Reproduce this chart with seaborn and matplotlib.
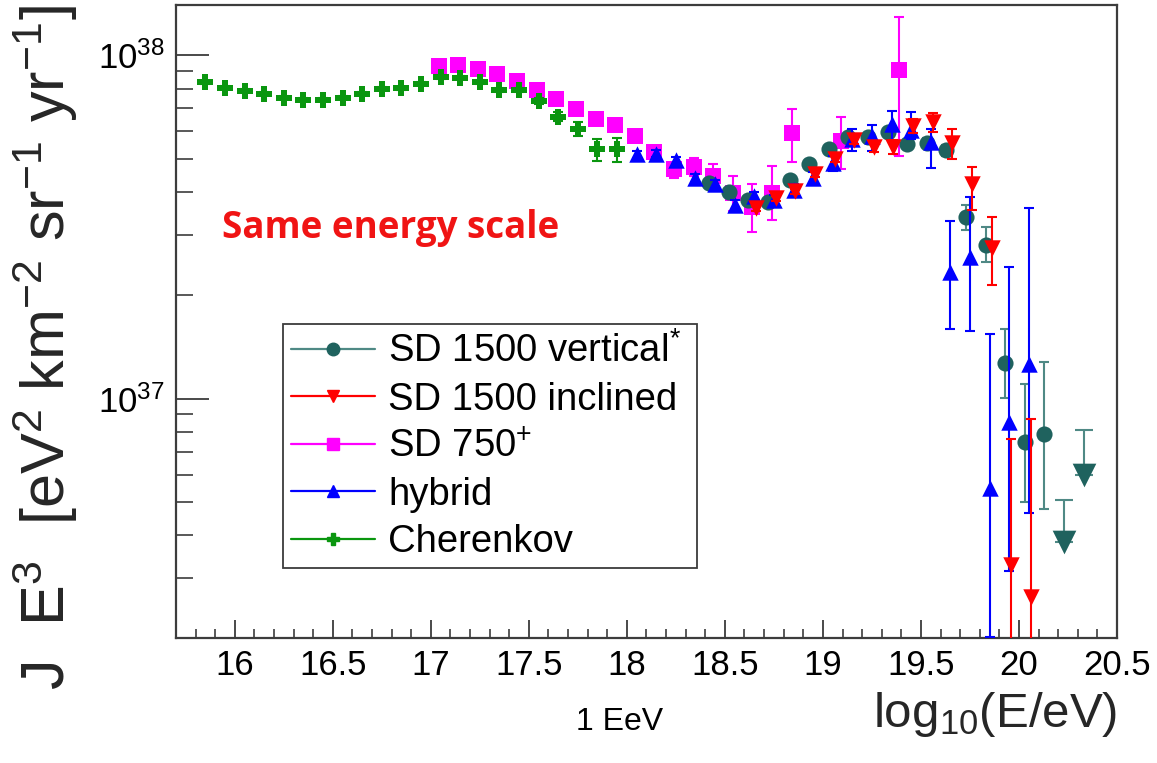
import numpy as np
import pandas as pd
import matplotlib
matplotlib.use("Agg")
import matplotlib.pyplot as plt
import seaborn as sns
from matplotlib.lines import Line2D
from matplotlib.ticker import FixedLocator, LogLocator, NullFormatter, FuncFormatter

# ── Data (J E^3 in units of 1e37 eV^2 km^-2 sr^-1 yr^-1) ─────────────────────
SCALE = 1e37

# SD 1500 vertical
vert_x  = [18.42, 18.52, 18.62, 18.72, 18.83, 18.93, 19.03, 19.13, 19.23, 19.33,
           19.43, 19.53, 19.63, 19.73, 19.83, 19.93, 20.03, 20.13]
vert_y  = [4.25, 3.99, 3.80, 3.74, 4.32, 4.81, 5.32, 5.79, 5.79, 5.96,
           5.51, 5.57, 5.29, 3.37, 2.80, 1.27, 0.746, 0.791]
vert_lo = [0.04, 0.04, 0.04, 0.04, 0.05, 0.06, 0.07, 0.09, 0.10, 0.12,
           0.14, 0.17, 0.20, 0.27, 0.30, 0.263, 0.245, 0.315]
vert_hi = [0.04, 0.04, 0.04, 0.04, 0.05, 0.06, 0.07, 0.09, 0.10, 0.12,
           0.14, 0.17, 0.20, 0.30, 0.37, 0.33, 0.354, 0.489]
# upper limits (cap value and arrow tip)
ul_x   = [20.23, 20.33]
ul_cap = [0.507, 0.809]
ul_tip = [0.383, 0.600]

# SD 1500 inclined
incl_x  = [18.66, 18.76, 18.86, 18.96, 19.06, 19.16, 19.26, 19.36, 19.46, 19.56,
           19.66, 19.76, 19.86, 19.96, 20.06]
incl_y  = [3.59, 3.83, 4.02, 4.50, 4.98, 5.66, 5.41, 5.41, 6.23, 6.37,
           5.57, 4.21, 2.74, 0.327, 0.264]
incl_lo = [0.06, 0.06, 0.07, 0.08, 0.10, 0.13, 0.20, 0.25, 0.30, 0.41,
           0.59, 0.66, 0.59, 0.227, 0.164]
incl_hi = [0.06, 0.06, 0.07, 0.08, 0.10, 0.13, 0.20, 0.25, 0.30, 0.40,
           0.53, 0.53, 0.64, 0.436, 0.609]

# SD 750
sd750_x  = [17.04, 17.14, 17.24, 17.34, 17.44, 17.54, 17.64, 17.74, 17.84, 17.94,
            18.04, 18.14, 18.24, 18.34, 18.44, 18.54, 18.64, 18.74, 18.84, 19.09, 19.39]
sd750_y  = [9.28, 9.35, 9.14, 8.84, 8.41, 7.93, 7.46, 6.98, 6.52, 6.28,
            5.83, 5.21, 4.65, 4.73, 4.45, 3.97, 3.61, 3.97, 5.92, 5.63, 9.04]
sd750_lo = [0.10, 0.10, 0.10, 0.10, 0.10, 0.10, 0.10, 0.10, 0.10, 0.10,
            0.10, 0.10, 0.25, 0.28, 0.39, 0.46, 0.55, 0.65, 1.03, 0.96, 3.95]
sd750_hi = [0.10, 0.10, 0.10, 0.10, 0.10, 0.10, 0.10, 0.10, 0.10, 0.10,
            0.10, 0.10, 0.16, 0.30, 0.36, 0.48, 0.60, 0.79, 1.06, 0.96, 3.91]

# hybrid
hyb_x  = [18.05, 18.15, 18.25, 18.35, 18.45, 18.55, 18.65, 18.75, 18.85, 18.95,
          19.05, 19.15, 19.25, 19.35, 19.45, 19.55, 19.65, 19.75, 19.85, 19.95, 20.05]
hyb_y  = [5.15, 5.17, 4.94, 4.40, 4.21, 3.67, 3.89, 3.78, 4.06, 4.40,
          4.84, 5.70, 5.81, 6.32, 6.07, 5.60, 2.34, 2.59, 0.548, 0.854, 1.26]
hyb_lo = [0.12, 0.12, 0.12, 0.12, 0.12, 0.12, 0.12, 0.13, 0.15, 0.17,
          0.25, 0.43, 0.54, 0.69, 0.37, 0.90, 0.74, 1.02, 0.346, 0.538, 0.795]
hyb_hi = [0.12, 0.12, 0.12, 0.12, 0.12, 0.12, 0.12, 0.13, 0.15, 0.17,
          0.25, 0.40, 0.45, 0.58, 0.78, 0.50, 0.96, 1.27, 0.992, 1.566, 2.32]

# Cherenkov
cher_x   = [15.85, 15.95, 16.05, 16.15, 16.25, 16.35, 16.45, 16.55, 16.65, 16.75, 16.85,
            16.95, 17.05, 17.15, 17.25, 17.35, 17.45, 17.55, 17.65, 17.75, 17.85, 17.95]
cher_y   = [8.35, 8.04, 7.89, 7.72, 7.52, 7.42, 7.42, 7.52, 7.72, 7.99, 8.02,
            8.26, 8.64, 8.60, 8.35, 7.93, 7.93, 7.38, 6.63, 6.10, 5.32, 5.32]
cher_err = [0.08, 0.08, 0.08, 0.08, 0.08, 0.08, 0.08, 0.08, 0.08, 0.08, 0.08,
            0.09, 0.10, 0.10, 0.10, 0.10, 0.12, 0.15, 0.20, 0.30, 0.40, 0.42]

x_ticks = [16, 16.5, 17, 17.5, 18, 18.5, 19, 19.5, 20, 20.5]

# ── Style ─────────────────────────────────────────────────────────────────────
TEAL_M, TEAL_L = "#1f625e", "#4f8985"
RED, MAGENTA, BLUE, GREEN = "#ff0000", "#ff00ff", "#0000ff", "#0a960f"
FRAME = "#3c3c3c"

sns.set_theme(style="white")
plt.rcParams.update({
    "font.family":      ["Liberation Sans", "DejaVu Sans"],
    "mathtext.fontset": "custom",
    "mathtext.rm":      "Liberation Sans",
    "mathtext.it":      "Liberation Sans:italic",
    "mathtext.default": "regular",
    "axes.edgecolor":   FRAME,
    "axes.linewidth":   1.6,
    "text.color":       "black",
    "xtick.color":      FRAME,
    "ytick.color":      FRAME,
    "xtick.labelcolor": "black",
    "ytick.labelcolor": "black",
})

fig = plt.figure(figsize=(11.57, 7.63), dpi=100, facecolor="white")
ax = fig.add_axes([0.1521, 0.1638, 0.8133, 0.8296])

series = [
    # label, x, y, lo, hi, marker, marker colour, bar colour, size, zorder
    ("SD 750$^{+}$",          sd750_x, sd750_y, sd750_lo, sd750_hi, "s", MAGENTA, MAGENTA, 125, 2),
    ("Cherenkov",             cher_x, cher_y, cher_err, cher_err, "P", GREEN, GREEN, 135, 3),
    ("SD 1500 vertical$^{*}$", vert_x, vert_y, vert_lo, vert_hi, "o", TEAL_M, TEAL_L, 135, 4),
    ("hybrid",                hyb_x, hyb_y, hyb_lo, hyb_hi, "^", BLUE, BLUE, 140, 5),
    ("SD 1500 inclined",      incl_x, incl_y, incl_lo, incl_hi, "v", RED, RED, 140, 6),
]

for label, xs, ys, lo, hi, mk, mc, ec, sz, z in series:
    ys = np.array(ys) * SCALE
    yerr = [np.array(lo) * SCALE, np.array(hi) * SCALE]
    ax.errorbar(xs, ys, yerr=yerr, fmt="none", ecolor=ec, elinewidth=1.5,
                capsize=3.8, capthick=1.5, zorder=z)
    sns.scatterplot(x=xs, y=ys, ax=ax, marker=mk, color=mc, s=sz,
                    linewidth=0, legend=False, zorder=z + 0.5)

# upper limits of SD 1500 vertical
tip = np.array(ul_tip) * SCALE
cap = np.array(ul_cap) * SCALE
ax.errorbar(ul_x, tip, yerr=[np.zeros(len(tip)), cap - tip], fmt="none",
            ecolor=TEAL_L, elinewidth=1.5, capsize=6.5, capthick=1.5, zorder=4)
sns.scatterplot(x=ul_x, y=tip, ax=ax, marker="v", color=TEAL_M, s=290,
                linewidth=0, legend=False, zorder=4.5)

# ── Axes ──────────────────────────────────────────────────────────────────────
ax.set_yscale("log")
ax.set_xlim(15.7, 20.5)
ax.set_ylim(2.01e36, 1.40e38)

ax.xaxis.set_major_locator(FixedLocator(x_ticks))
ax.xaxis.set_minor_locator(FixedLocator(np.round(np.arange(15.8, 20.5, 0.1), 2)))
ax.xaxis.set_major_formatter(FuncFormatter(lambda v, _: f"{v:g}"))
ax.yaxis.set_major_locator(LogLocator(base=10, numticks=10))
ax.yaxis.set_minor_locator(LogLocator(base=10, subs=np.arange(2, 10), numticks=20))
ax.yaxis.set_minor_formatter(NullFormatter())

ax.tick_params(axis="x", which="both", bottom=True, top=False, direction="in")
ax.tick_params(axis="y", which="both", left=True, right=False, direction="in")
ax.tick_params(axis="x", which="major", length=13, width=1.3, labelsize=25, pad=8)
ax.tick_params(axis="x", which="minor", length=6.5, width=1.2)
ax.tick_params(axis="y", which="major", length=24, width=1.3, labelsize=25, pad=8)
ax.tick_params(axis="y", which="minor", length=12, width=1.2)
ax.grid(False)

ax.set_xlabel(r"log$_{10}$(E/eV)", fontsize=35.5, loc="right")
ax.xaxis.set_label_coords(1.0, -0.082)
ax.set_ylabel(r"J  E$^{3}$  [eV$^{2}$ km$^{-2}$ sr$^{-1}$ yr$^{-1}$]", fontsize=44, loc="top")
ax.yaxis.set_label_coords(-0.102, 1.0)

# ── Legend ────────────────────────────────────────────────────────────────────
order = [2, 4, 0, 3, 1]
handles, labels = [], []
for i in order:
    label, _, _, _, _, mk, mc, ec, _, _ = series[i]
    handles.append(Line2D([], [], color=ec, lw=1.6, marker=mk, markersize=9,
                          markerfacecolor=mc, markeredgecolor=mc))
    labels.append(label)
leg = ax.legend(handles, labels, loc="lower left",
                bbox_to_anchor=(0.1134, 0.110, 0.4403, 0.3697), mode="expand",
                fontsize=27.5, frameon=True, fancybox=False, framealpha=1,
                edgecolor=FRAME, borderpad=0.22, labelspacing=0.3,
                handlelength=2.2, handletextpad=0.35, borderaxespad=0)
leg.get_frame().set_linewidth(1.3)

# ── Annotations ───────────────────────────────────────────────────────────────
fig.text(222 / 1157, 1 - 228 / 763, "Same energy scale", color="#f01414",
         fontsize=26.5, fontweight="bold", family="Open Sans", ha="left", va="center")
fig.text(620 / 1157, 1 - 722 / 763, "1 EeV", color="black", fontsize=23,
         family="Liberation Sans", ha="center", va="center")

fig.savefig("out.png", dpi=100, facecolor="white")
